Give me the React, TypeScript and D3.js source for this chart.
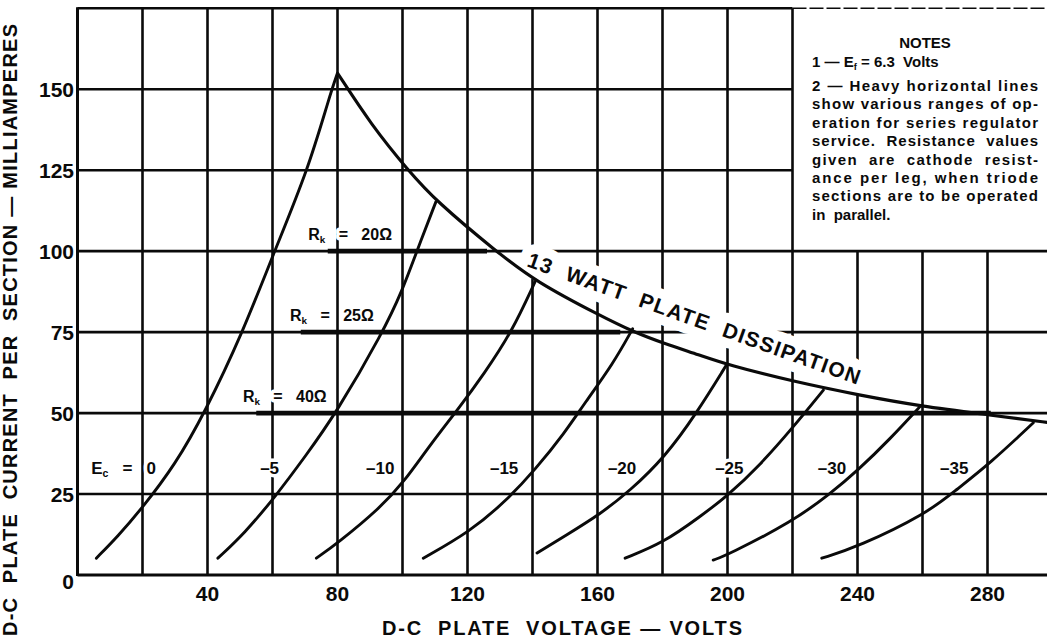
import React from 'react';
import * as d3 from 'd3';

// ---------- data ----------
const xTicks = [40, 80, 120, 160, 200, 240, 280];
const yTicks = [0, 25, 50, 75, 100, 125, 150];
const xGrid = [20, 40, 60, 80, 100, 120, 140, 160, 180, 200, 220, 240, 260, 280];
const yGrid = [25, 50, 75, 100, 125, 150];

// plate characteristic curves [volts, mA]
const ec0 = [[5.8, 5.2], [12.3, 11.8], [20, 20.8], [30, 34], [39.1, 50], [50.9, 75], [60.2, 99], [70.9, 125], [77.6, 148], [80, 155]];
const ec5 = [[43.2, 5.2], [51.4, 12.9], [60.7, 24], [70, 36.5], [79.6, 50], [94, 75], [100, 88], [104.4, 100], [110.3, 115.3]];
const ec10 = [[73.5, 5.2], [80, 9.8], [93.1, 20.7], [100.5, 28.8], [108.5, 40.2], [117.7, 52], [125, 62], [133.6, 75], [140.8, 90.6]];
const ec15 = [[106.4, 5.2], [120.8, 13.4], [132, 23], [140.8, 32.5], [150, 44], [156, 53], [164.9, 65.4], [170.8, 76]];
const ec20 = [[141.4, 6.8], [150.5, 12.4], [160.8, 18.8], [170, 26], [180.8, 36.5], [190.5, 50], [199.7, 64.9]];
const ec25 = [[168.5, 5.2], [180.2, 9.9], [191.5, 18], [199.7, 24.2], [209.9, 33.8], [220.5, 46], [229.5, 57.1]];
const ec30 = [[195.6, 4.6], [200, 6.2], [220, 16.5], [231.5, 25], [240.2, 32.4], [250, 42], [259.5, 52.3]];
const ec35 = [[229, 5.2], [240.2, 8.7], [261.3, 19], [270, 26], [280.8, 34.5], [294.1, 47]];
const curves = [ec0, ec5, ec10, ec15, ec20, ec25, ec30, ec35];
const curveLabels = ['0', '–5', '–10', '–15', '–20', '–25', '–30', '–35'];
const curveLabelV = [4.2, 56.2, 88.8, 126.9, 163.2, 196.2, 227.8, 265.4];
const curveLabelI = 31.2;

// 13 watt plate dissipation curve
const dissipation = [[80, 155], [90.4, 139], [101.7, 125], [110.5, 115.3], [129, 99.8], [141, 90.6], [160.8, 80.1], [171, 75.1], [180.2, 71.6], [191.5, 67.9], [200, 64.9], [220.5, 59.7], [240.2, 55.6], [259.5, 52.1], [281, 49.4], [300, 46.9]];

// heavy operating-range lines
const rkValues = ['20Ω', '25Ω', '40Ω'];
const rkCurrent = [100, 75, 50];
const rkFrom = [77, 68.7, 55];
const rkTo = [126, 167, 281];
const rkLabelV = [71, 65.4, 50.9];

const notesLines = [
  'show various ranges of op-',
  'eration for series regulator',
  'service.  Resistance  values',
  'given  are  cathode  resist-',
  'ance per leg, when triode',
  'sections are to be operated',
  'in  parallel.',
];

// ---------- chart ----------
const W = 1047;
const H = 642;
const FONT = '"Liberation Sans", Arial, sans-serif';

export default function App() {
  const x = d3.scaleLinear().domain([0, 300]).range([77.5, 1052.5]);
  const y = d3.scaleLinear().domain([0, 175]).range([575, 8.3]);
  const line = d3
    .line<number[]>()
    .x((d) => x(d[0]))
    .y((d) => y(d[1]))
    .curve(d3.curveBasis);

  const ink = '#0a0a0a';
  const gridW = 2.6;
  const notesX = 812;
  const notesW = 226;
  const nTop = 48; // NOTES baseline

  const sub = (main: string, s: string, rest: string, size: number) => (
    <>
      <tspan>{main}</tspan>
      <tspan fontSize={size * 0.62} dy={size * 0.18}>{s}</tspan>
      <tspan dy={-size * 0.18} style={{ whiteSpace: 'pre' }}>{rest}</tspan>
    </>
  );

  const dissText = '13  WATT  PLATE  DISSIPATION';
  const tx = 526;
  const ty = 266;
  const ang = 19.7;

  const labels = (halo: boolean) => {
    const paint = halo
      ? { fill: '#fff', stroke: '#fff', strokeWidth: 7, strokeLinejoin: 'round' as const }
      : { fill: ink };
    return (
      <g>
        {curveLabels.map((t, k) => (
          <text
            key={'cl' + k}
            x={x(curveLabelV[k])}
            y={y(curveLabelI)}
            fontSize={17}
            fontWeight="bold"
            {...paint}
            style={{ whiteSpace: 'pre' }}
          >
            {k === 0 ? sub('E', 'c', '   =   0', 17) : t}
          </text>
        ))}
        {rkValues.map((t, k) => (
          <text
            key={'rl' + k}
            x={x(rkLabelV[k])}
            y={y(rkCurrent[k]) - 11}
            fontSize={16}
            fontWeight="bold"
            {...paint}
          >
            {sub('R', 'k', '   =   ' + t, 16)}
          </text>
        ))}
        <text
          transform={`translate(${tx},${ty}) rotate(${ang})`}
          fontSize={21}
          fontWeight="bold"
          textLength={352}
          lengthAdjust="spacing"
          {...paint}
          strokeWidth={halo ? 20 : 0}
          style={{ whiteSpace: 'pre' }}
        >
          {dissText}
        </text>
      </g>
    );
  };

  return (
    <svg
      width={W}
      height={H}
      style={{ position: 'absolute', left: 0, top: 0, background: '#fff' }}
      fontFamily={FONT}
    >
      <rect x={0} y={0} width={W} height={H} fill="#fff" />
      {xGrid.map((v) => (
        <line
          key={'vx' + v}
          x1={x(v)}
          x2={x(v)}
          y1={y(0)}
          y2={v > 220 ? y(100) : y(175)}
          stroke={ink}
          strokeWidth={gridW}
        />
      ))}
      {yGrid.map((i) => (
        <line
          key={'hy' + i}
          x1={x(0)}
          x2={i > 100 ? x(220) : W}
          y1={y(i)}
          y2={y(i)}
          stroke={ink}
          strokeWidth={gridW}
        />
      ))}
      <line x1={x(0)} x2={x(220)} y1={y(175)} y2={y(175)} stroke={ink} strokeWidth={gridW} />
      <line x1={x(220)} x2={W} y1={y(175)} y2={y(175)} stroke={ink} strokeWidth={1.6} strokeDasharray="14 3" />
      <line x1={x(0)} x2={W} y1={y(0)} y2={y(0)} stroke={ink} strokeWidth={gridW + 0.4} />
      <line x1={x(0)} x2={x(0)} y1={y(0) + 1} y2={y(175) - 1} stroke={ink} strokeWidth={gridW + 0.4} />

      {rkCurrent.map((i, k) => (
        <line
          key={'rk' + k}
          x1={x(rkFrom[k])}
          x2={x(rkTo[k])}
          y1={y(i)}
          y2={y(i)}
          stroke={ink}
          strokeWidth={4.8}
        />
      ))}

      {labels(true)}

      {curves.map((c, k) => (
        <path key={'c' + k} d={line(c) || ''} fill="none" stroke={ink} strokeWidth={2.9} strokeLinecap="round" />
      ))}
      <path d={line(dissipation) || ''} fill="none" stroke={ink} strokeWidth={3.1} />

      {labels(false)}

      {yTicks.map((v) => (
        <text
          key={'yt' + v}
          x={74}
          y={y(v) + (v === 0 ? 6 : 0)}
          textAnchor="end"
          dominantBaseline="central"
          fontSize={21}
          fontWeight="bold"
          fill={ink}
        >
          {v}
        </text>
      ))}
      {xTicks.map((v) => (
        <text key={'xt' + v} x={x(v)} y={601} textAnchor="middle" fontSize={21} fontWeight="bold" fill={ink}>
          {v}
        </text>
      ))}

      <text
        x={562}
        y={635}
        textAnchor="middle"
        fontSize={20}
        fontWeight="bold"
        fill={ink}
        textLength={360}
        lengthAdjust="spacing"
        style={{ whiteSpace: 'pre' }}
      >
        {'D-C  PLATE  VOLTAGE — VOLTS'}
      </text>
      <text
        transform="translate(17,330) rotate(-90)"
        textAnchor="middle"
        fontSize={20}
        fontWeight="bold"
        fill={ink}
        textLength={612}
        lengthAdjust="spacing"
        style={{ whiteSpace: 'pre' }}
      >
        {'D-C  PLATE  CURRENT  PER  SECTION — MILLIAMPERES'}
      </text>

      <text x={notesX + notesW / 2} y={nTop} textAnchor="middle" fontSize={15} fontWeight="bold" fill={ink}>
        NOTES
      </text>
      <text x={notesX} y={nTop + 19} fontSize={15} fontWeight="bold" fill={ink} style={{ whiteSpace: 'pre' }}>
        {sub('1 — E', 'f', ' = 6.3  Volts', 15)}
      </text>
      <text
        x={notesX}
        y={nTop + 43}
        fontSize={15}
        fontWeight="bold"
        fill={ink}
        textLength={notesW}
        lengthAdjust="spacing"
        style={{ whiteSpace: 'pre' }}
      >
        {'2 — Heavy horizontal lines'}
      </text>
      {notesLines.map((t, k) => (
        <text
          key={'nl' + k}
          x={notesX}
          y={nTop + 61.4 + k * 18.4}
          fontSize={15}
          fontWeight="bold"
          fill={ink}
          textLength={k < notesLines.length - 1 ? notesW : undefined}
          lengthAdjust="spacing"
          style={{ whiteSpace: 'pre' }}
        >
          {t}
        </text>
      ))}
    </svg>
  );
}
